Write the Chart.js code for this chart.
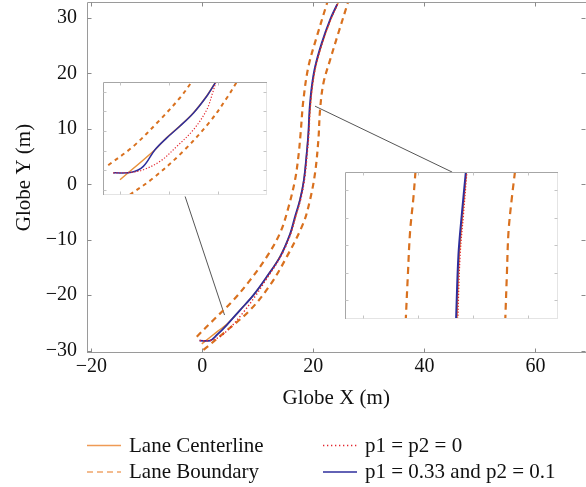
<!DOCTYPE html>
<html>
<head>
<meta charset="utf-8">
<script src="https://cdn.jsdelivr.net/npm/chart.js@4.4.1/dist/chart.umd.min.js"></script>
<style>
  html, body { margin: 0; padding: 0; background: #fff; overflow: hidden; }
  #wrap { position: relative; width: 586px; height: 487px; }
  canvas { position: absolute; }
</style>
</head>
<body>
<div id="wrap">
  <canvas id="main" width="586" height="487" style="left:0;top:0"></canvas>
  <canvas id="zoomA" width="164" height="113" style="left:103px;top:82px;background:#fff"></canvas>
  <canvas id="zoomB" width="213" height="147" style="left:345px;top:172px;background:#fff"></canvas>
</div>
<script>
/* =======================================================
     DATOS
======================================================= */
const xTicks = [-20, 0, 20, 40, 60];
const yTicks = [-30, -20, -10, 0, 10, 20, 30];
const legendLabels = ['Lane Centerline', 'Lane Boundary', 'p1 = p2 = 0', 'p1 = 0.33 and p2 = 0.1'];

// vista general, metros [x, y]
const mainCenter = [[-0.1,-28.8],[2.8,-26.5],[4.5,-25.2],[6.9,-22.6],[9.3,-19.9],[11.7,-16.6],[14.0,-13.0],
  [15.8,-9.0],[16.8,-5.8],[17.6,-2.7],[18.3,0.9],[18.8,5.6],[19.1,9.3],[19.4,13.4],[19.8,17.6],[20.4,21.2],
  [21.6,25.5],[23.1,29.7],[24.4,32.6],[24.8,33.5]];
const mainLeft = [[-1.0,-27.5],[2.0,-24.5],[5.6,-20.9],[8.6,-17.3],[11.6,-13.1],[14.0,-8.8],[15.5,-4.2],
  [16.7,0.8],[17.3,5.0],[17.7,9.2],[18.2,15.2],[19.1,21.2],[20.6,26.6],[22.4,32.5],[22.7,33.5]];
const mainRight = [[0.2,-29.9],[3.8,-26.9],[8.6,-22.7],[12.2,-18.2],[15.2,-13.1],[18.2,-7.0],[19.4,-2.8],
  [20.3,2.0],[20.9,8.0],[21.2,13.4],[21.8,18.2],[23.0,22.4],[24.5,27.3],[26.0,32.1],[26.4,33.5]];
const mainP0 = [[-0.5,-28.2],[1.4,-28.2],[3.0,-27.6],[5.0,-25.9],[7.4,-23.1],[9.6,-20.1],[11.8,-16.7],
  [14.1,-13.1],[15.9,-9.0],[16.8,-5.8],[17.7,-2.8],[18.4,0.8],[18.9,5.6],[19.2,9.2],[19.4,13.4],
  [19.8,17.6],[20.4,21.2],[21.6,25.5],[23.1,29.7],[24.4,32.6]];
const mainP1 = [[-0.5,-28.2],[1.4,-28.2],[2.6,-27.2],[4.4,-25.4],[6.8,-22.7],[9.2,-20.0],[11.6,-16.7],
  [14.0,-13.1],[15.8,-9.0],[16.7,-5.8],[17.6,-2.8],[18.3,0.8],[18.8,5.6],[19.1,9.2],[19.3,13.4],
  [19.7,17.6],[20.3,21.2],[21.5,25.5],[23.0,29.7],[24.3,32.5]];
const guideA = [[-3.1,-2.2],[4.0,-23.6]];
const guideB = [[20.3,14.1],[45.0,2.2]];

// zoom del arranque (unidades de la malla del recuadro)
const zoomATicksX = [1, 2, 3, 4];
const zoomATicksY = [1, 2, 3, 4, 5, 6];
const zoomACenter = [[1.0,1.52],[1.714,3.05],[1.95,3.66],[2.22,4.25],[2.50,4.93],[2.77,5.78],[2.94,6.45],[2.97,6.6]];
const zoomALeft = [[0.76,2.26],[1.27,3.22],[1.82,4.58],[2.22,5.68],[2.46,6.49],[2.5,6.7]];
const zoomARight = [[1.20,0.76],[1.68,1.61],[2.29,2.97],[2.84,4.49],[3.18,5.68],[3.38,6.49],[3.42,6.7]];
const zoomAP0 = [[0.863,1.87],[1.24,1.90],[1.476,2.03],[1.82,2.46],[2.16,3.22],[2.50,4.07],[2.77,5.08],[2.90,6.02],[2.97,6.6]];
const zoomAP1 = [[0.863,1.87],[1.24,1.90],[1.476,2.2],[1.714,3.05],[1.95,3.64],[2.22,4.24],[2.50,4.92],[2.77,5.77],[2.94,6.44],[2.97,6.6]];

// zoom del tramo central
const zoomBTicksX = [1, 2, 3, 4];
const zoomBTicksY = [1, 2, 3, 4, 5];
const zoomBCenter = [[2.70,0.2],[2.745,2.64],[2.805,4.09],[2.876,5.7]];
const zoomBLeft = [[1.77,0.2],[1.81,1.91],[1.85,3.48],[1.91,4.7],[1.95,5.7]];
const zoomBRight = [[3.58,0.2],[3.61,1.91],[3.64,3.48],[3.70,4.70],[3.76,5.7]];
const zoomBP0 = [[2.716,0.2],[2.76,2.64],[2.82,4.09],[2.885,5.7]];
const zoomBP1 = [[2.685,0.2],[2.73,2.64],[2.79,4.09],[2.867,5.7]];

/* =======================================================
     ESTILOS
======================================================= */
const FAM = "'Liberation Serif', 'Times New Roman', serif";
const C_CENTER = '#e8913a';
const C_BOUND = '#d9711f';
const C_P0 = '#e3262e';
const C_P1 = '#2e2e9c';

const pts = a => a.map(([x, y]) => ({ x, y }));
const fmt = v => v < 0 ? '\u2212' + Math.abs(v) : String(v);

function serie(data, color, width, dash, order, tension = 0.35) {
  return { data: pts(data), borderColor: color, borderWidth: width, borderDash: dash,
           pointRadius: 0, tension, fill: false, order };
}

/* =======================================================
     PLUGIN: CAJA Y MARCAS HACIA DENTRO
======================================================= */
const marco = {
  id: 'marco',
  afterDatasetsDraw(chart, args, o) {
    const { ctx, chartArea: a, scales: { x, y } } = chart;
    const L = Math.round(a.left) + 0.5, R = Math.round(a.right) - 0.5;
    const T = Math.round(a.top) + 0.5, B = Math.round(a.bottom) - 0.5;
    ctx.save();
    ctx.lineWidth = 1;
    const line = (x1, y1, x2, y2, c) => {
      ctx.strokeStyle = c; ctx.beginPath(); ctx.moveTo(x1, y1); ctx.lineTo(x2, y2); ctx.stroke();
    };
    if (o.bottom) line(L, B, R + 1, B, o.bottom);
    if (o.right) line(R, T, R, B, o.right);
    if (o.top) line(L, T, R + 1, T, o.top);
    if (o.left) line(L, T, L, B + 0.5, o.left);
    const n = o.len;
    o.ticksX.forEach(v => {
      const px = Math.round(x.getPixelForValue(v)) + 0.5;
      line(px, B, px, B - n, o.tick);
      line(px, T, px, T + n, o.tick);
    });
    o.ticksY.forEach(v => {
      const py = Math.round(y.getPixelForValue(v)) + 0.5;
      line(L, py, L + n, py, o.tick);
      line(R, py, R - n, py, o.tick);
    });
    ctx.restore();
  }
};

/* =======================================================
     PLUGIN: LEYENDA EN DOS COLUMNAS
======================================================= */
const leyenda = {
  id: 'leyenda',
  afterDraw(chart) {
    const ctx = chart.ctx;
    const items = [
      { x: 87, y: 445.5, base: 452, color: '#ef9a55', dash: [], w: 1.3 },
      { x: 87, y: 472, base: 478, color: '#f0a56a', dash: [6, 4], w: 1.3 },
      { x: 323, y: 445.5, base: 452, color: C_P0, dash: [1.3, 2.7], w: 1.3 },
      { x: 323, y: 472, base: 478, color: C_P1, dash: [], w: 1.6 }
    ];
    ctx.save();
    ctx.font = '21px ' + FAM;
    ctx.fillStyle = '#111';
    ctx.textBaseline = 'alphabetic';
    items.forEach((it, i) => {
      ctx.strokeStyle = it.color;
      ctx.lineWidth = it.w;
      ctx.setLineDash(it.dash);
      ctx.beginPath();
      ctx.moveTo(it.x, it.y);
      ctx.lineTo(it.x + 34, it.y);
      ctx.stroke();
      ctx.fillText(legendLabels[i], it.x + 42, it.base);
    });
    ctx.restore();
  }
};

/* =======================================================
     GRÁFICA PRINCIPAL
======================================================= */
new Chart(document.getElementById('main'), {
  type: 'line',
  data: { datasets: [
    serie(mainP0, C_P0, 1.4, [1.3, 2.2], 0),
    serie(mainP1, C_P1, 1.8, [], 1),
    serie(mainLeft, C_BOUND, 2.2, [6, 4.5], 2),
    serie(mainRight, C_BOUND, 2.2, [6, 4.5], 2),
    serie(mainCenter, C_CENTER, 1.5, [], 3),
    serie(guideA, '#555', 1, [], 4, 0),
    serie(guideB, '#555', 1, [], 4, 0)
  ]},
  options: {
    responsive: false,
    animation: false,
    layout: { padding: { top: 2, right: 0, left: 0, bottom: 0 } },
    plugins: {
      legend: { display: false },
      tooltip: { enabled: false },
      marco: { ticksX: xTicks, ticksY: yTicks, len: 4, tick: '#8a8a8a',
               top: '#9a9a9a', left: '#9a9a9a', bottom: '#9a9a9a' }
    },
    scales: {
      x: {
        type: 'linear', min: -20.86, max: 69.1,
        grid: { display: false }, border: { display: false },
        afterBuildTicks: s => { s.ticks = xTicks.map(v => ({ value: v })); },
        afterFit: s => { s.height = 134; s.paddingLeft = 0; s.paddingRight = 0; },
        ticks: { padding: -6, color: '#111', font: { family: FAM, size: 20 }, callback: fmt },
        title: { display: true, text: 'Globe X (m)', color: '#111',
                 font: { family: FAM, size: 21 }, padding: { top: 0, bottom: 76.4 } }
      },
      y: {
        type: 'linear', min: -30.45, max: 32.9,
        grid: { display: false }, border: { display: false },
        afterBuildTicks: s => { s.ticks = yTicks.map(v => ({ value: v })); },
        afterFit: s => { s.width = 86.5; s.paddingTop = 0; s.paddingBottom = 0; },
        ticks: { padding: 1.5, color: '#111', font: { family: FAM, size: 20 }, callback: fmt },
        title: { display: true, text: 'Globe Y (m)', color: '#111',
                 font: { family: FAM, size: 21 }, padding: { top: 11.4, bottom: 0 } }
      }
    }
  },
  plugins: [marco, leyenda]
});

/* =======================================================
     RECUADROS DE ZOOM
======================================================= */
function recuadro(id, datasets, xr, yr, tx, ty) {
  new Chart(document.getElementById(id), {
    type: 'line',
    data: { datasets },
    options: {
      responsive: false,
      animation: false,
      layout: { padding: 0 },
      plugins: {
        legend: { display: false },
        tooltip: { enabled: false },
        marco: { ticksX: tx, ticksY: ty, len: 3, tick: '#c4c4c4',
                 top: '#a6a6a6', left: '#a6a6a6', bottom: '#e4e4e4', right: '#e4e4e4' }
      },
      scales: {
        x: { type: 'linear', display: false, min: xr[0], max: xr[1] },
        y: { type: 'linear', display: false, min: yr[0], max: yr[1] }
      }
    },
    plugins: [marco]
  });
}

recuadro('zoomA', [
  serie(zoomAP0, C_P0, 1.2, [1.2, 1.8], 0),
  serie(zoomAP1, C_P1, 1.5, [], 1),
  serie(zoomALeft, C_BOUND, 2, [4, 4], 2),
  serie(zoomARight, C_BOUND, 2, [4, 4], 2),
  serie(zoomACenter, C_CENTER, 1.5, [], 3)
], [0.653, 4.0], [0.746, 6.493], zoomATicksX, zoomATicksY);

recuadro('zoomB', [
  serie(zoomBP0, C_P0, 1.3, [1.3, 1.7], 0),
  serie(zoomBP1, C_P1, 2, [], 1),
  serie(zoomBLeft, C_BOUND, 2.2, [7, 5], 2),
  serie(zoomBRight, C_BOUND, 2.2, [7, 5], 2),
  serie(zoomBCenter, C_CENTER, 1.5, [], 3)
], [0.667, 4.54], [0.309, 5.655], zoomBTicksX, zoomBTicksY);
</script>
</body>
</html>
